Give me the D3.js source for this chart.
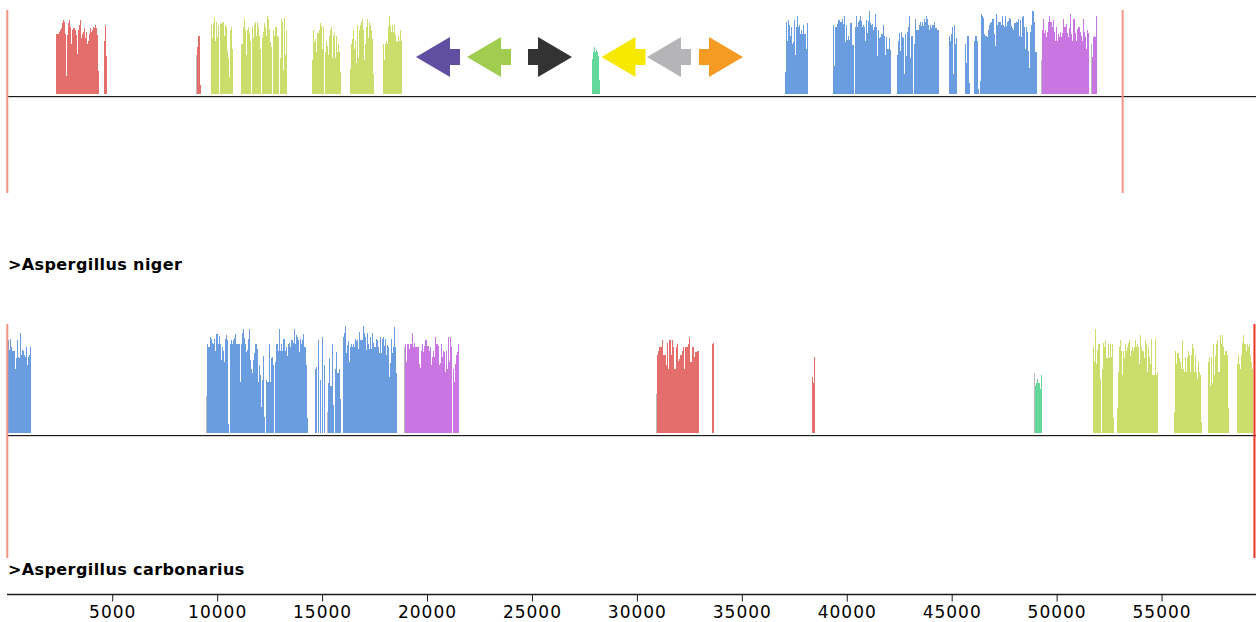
<!DOCTYPE html>
<html>
<head>
<meta charset="utf-8">
<script src="https://cdn.jsdelivr.net/npm/d3@7"></script>
<style>
  body { margin: 0; background: #fff; }
  svg { display: block; }
  .label { font-family: "DejaVu Sans", sans-serif; font-weight: bold; font-size: 16px; letter-spacing: 0.4px; fill: #000; }
  .axis text { font-family: "DejaVu Sans", sans-serif; font-size: 17px; letter-spacing: 1px; fill: #000; }
</style>
</head>
<body>
<svg id="chart"></svg>
<script>
const width = 1260;
const height = 622;

// genomes and their lengths (bp)
const genomes = [">Aspergillus niger", ">Aspergillus carbonarius"];
const genomeLengths = [53146, 59426];
const tickValues = [5000, 10000, 15000, 20000, 25000, 30000, 35000, 40000, 45000, 50000, 55000];

const lcbColors = {
  red: "#e36e6c", green: "#cbdd6b", blue: "#6a9de0",
  purple: "#c975e2", teal: "#64d89a", gray: "#b9b9b9"
};

// similarity profile blocks: [start bp, end bp, colour, similarity values (%)]
const nigerBlocks = [
  [2322, 4371, "red", [71,72,72,74,76,79,82,84,88,86,72,21,70,84,88,80,60,74,76,79,79,76,70,48,76,82,88,67,72,72,74,79,67,74,60,63,72,79,74,76,80,84,79,82,79,70,27]],
  [4600, 4760, "red", [63,82,45]],
  [8990, 9040, "gray", [46]],
  [9040, 9230, "red", [56,69,11]],
  [9707, 10755, "green", [82,67,85,90,63,86,68,82,0,85,83,86,86,69,82,80,51,43,20,76,80,53]],
  [11136, 13328, "green", [60,60,80,89,76,46,76,80,73,63,0,80,67,82,86,69,86,80,69,53,0,67,74,85,80,69,93,89,76,62,56,0,76,69,80,80,69,68,0,43,89,86,29,90,46,76]],
  [14519, 15901, "green", [40,76,62,65,50,73,73,76,85,81,53,80,0,50,63,57,46,69,76,80,43,69,73,43,69,50,60,50,26]],
  [16330, 17474, "green", [30,60,65,76,53,63,37,82,43,76,82,86,89,76,40,60,80,89,67,86,82,76,65,24]],
  [17903, 18808, "green", [60,40,60,63,60,80,93,82,74,82,74,82,70,63,62,69,63,76,63]],
  [27861, 28242, "teal", [42,50,56,50,52,50,45,17]],
  [37057, 38153, "blue", [26,86,63,88,82,69,80,60,62,88,46,80,93,80,82,71,76,71,82,71,71,53,85]],
  [39349, 42092, "blue", [82,33,80,80,83,88,88,86,86,89,83,93,62,82,64,69,64,85,85,58,58,0,80,93,80,86,88,93,87,80,82,80,63,88,73,87,99,85,82,83,76,80,95,80,45,76,67,68,71,71,82,69,46,68,53,53,67,52]],
  [42378, 44379, "blue", [46,63,73,51,74,68,67,50,24,71,45,74,80,93,43,69,69,0,60,89,76,76,76,82,86,81,86,81,89,86,93,89,82,76,82,78,82,82,86,78,78,76,76]],
  [44856, 45237, "blue", [69,63,71,80,24,82,60,67]],
  [45618, 45856, "blue", [60,37,69,69,13]],
  [46047, 46285, "blue", [63,69,69,63,6]],
  [46332, 49048, "blue", [16,95,93,90,71,69,69,68,76,82,85,86,89,89,71,57,95,82,86,86,86,82,93,82,80,93,81,86,87,90,89,81,78,76,85,85,86,86,89,69,88,68,92,93,80,53,80,74,51,31,74,82,99,99,86,50,50]],
  [49240, 49287, "gray", [40]],
  [49287, 51526, "purple", [76,89,73,76,68,74,86,93,86,86,80,88,74,63,80,63,71,68,74,68,73,89,80,80,83,73,68,78,95,71,63,89,89,73,63,77,80,80,74,69,63,89,74,68,53,76,73]],
  [51620, 51669, "gray", [60]],
  [51669, 51907, "purple", [44,68,69,68,93]]
];

const carbonariusBlocks = [
  [35, 1131, "blue", [85,76,86,79,75,75,75,59,69,85,70,69,92,72,76,75,72,70,79,62,70,72,79]],
  [9470, 9517, "gray", [34]],
  [9517, 10565, "blue", [82,79,79,88,86,83,82,86,75,91,82,89,82,67,79,75,65,86,90,85,8]],
  [10613, 12281, "blue", [82,85,82,85,87,91,82,82,82,82,47,82,92,95,87,82,74,76,86,95,67,59,55,67,73,82,82,77,47,62,53,24,49,71,15]],
  [12328, 12710, "blue", [49,47,47,82,47,69,70,62]],
  [12757, 14329, "blue", [65,82,82,75,95,75,82,75,86,86,75,79,71,82,83,79,85,85,83,95,82,90,88,85,74,86,82,85,91,79,79,62,14]],
  [14662, 15138, "blue", [59,61,0,85,0,49,0,88,0,62]],
  [15234, 15281, "gray", [19]],
  [15281, 15567, "blue", [46,69,43,82,26]],
  [15615, 15901, "blue", [59,74,55,59,31]],
  [15996, 18569, "blue", [88,92,98,73,81,84,65,79,82,79,82,79,86,84,85,77,93,85,85,85,98,92,88,76,92,82,77,82,88,77,92,83,79,79,86,85,79,73,88,73,86,88,80,86,72,81,79,51,64,86,73,79,97,79,55]],
  [18904, 18951, "gray", [79]],
  [18951, 21190, "purple", [82,65,82,82,77,82,82,92,79,83,79,79,79,79,63,60,75,82,74,80,85,85,80,75,79,62,70,75,70,88,82,82,80,62,64,82,70,75,74,56,75,59,88,65,88,79]],
  [21238, 21524, "purple", [59,47,63,72,74,82]],
  [30910, 30957, "gray", [36]],
  [30957, 32958, "red", [72,75,79,79,85,72,72,62,83,59,85,72,85,79,59,79,82,66,68,72,75,79,59,79,79,82,88,65,79,79,70,74,75,75]],
  [33577, 33672, "red", [82,83]],
  [38342, 38485, "red", [51,46,70]],
  [48920, 48968, "gray", [55]],
  [48968, 49302, "teal", [43,46,50,46,40,53]],
  [51733, 52114, "green", [79,65,95,63,76,82,82,50]],
  [52162, 52733, "green", [59,83,79,85,69,69,82,69,82,70,82,14]],
  [52876, 54830, "green", [23,56,79,85,75,53,75,69,82,75,79,83,85,71,75,79,75,79,85,79,82,79,63,90,79,75,75,69,85,82,56,79,70,63,86,53,53,53,86,53,56]],
  [55592, 56926, "green", [19,75,63,73,73,69,65,59,85,59,56,70,56,70,75,72,56,72,82,78,56,72,56,50,65,56,53,10]],
  [57212, 58212, "green", [65,70,43,70,46,82,53,71,82,85,89,56,56,90,82,90,79,72,75,75,72,23]],
  [58593, 59355, "green", [63,72,63,59,72,83,90,82,82,75,82,79,82,72,65,59]]
];

// marker arrows on the niger track: [centre bp, direction, colour]
const arrows = [
  [20522, -1, "#604ea0"],
  [22953, -1, "#a0cd50"],
  [25860, 1, "#333333"],
  [29362, -1, "#f7e800"],
  [31530, -1, "#b5b4b6"],
  [34007, 1, "#f59a23"]
];

const svg = d3.select("#chart")
  .attr("width", width)
  .attr("height", height);

const x = d3.scaleLinear().domain([0, 59500]).range([7.3, 1256]);

const panels = [
  { top: 10, base: 94, bottom: 193, label: 270, blocks: nigerBlocks },
  { top: 324, base: 433, bottom: 558, label: 575, blocks: carbonariusBlocks }
];

panels.forEach((p, gi) => {
  const y = d3.scaleLinear().domain([0, 100]).range([p.base, p.top]);
  const g = svg.append("g");

  // similarity bars
  p.blocks.forEach(([s, e, c, vals]) => {
    const step = (e - s) / vals.length;
    g.selectAll(null)
      .data(vals)
      .enter()
      .append("rect")
      .attr("x", (d, i) => x(s + i * step))
      .attr("width", Math.max(0.9, x(s + step) - x(s)))
      .attr("y", d => y(d))
      .attr("height", d => p.base - y(d))
      .attr("fill", lcbColors[c])
      .attr("shape-rendering", "crispEdges");
  });

  // centre line
  g.append("line")
    .attr("x1", 7).attr("x2", 1256)
    .attr("y1", p.base + 3.5).attr("y2", p.base + 3.5)
    .attr("stroke", "#d4d4d4").attr("stroke-width", 1)
    .attr("shape-rendering", "crispEdges");
  g.append("line")
    .attr("x1", 7).attr("x2", 1256)
    .attr("y1", p.base + 2.5).attr("y2", p.base + 2.5)
    .attr("stroke", "#1a1a1a").attr("stroke-width", 1)
    .attr("shape-rendering", "crispEdges");

  // genome start / end markers
  g.append("line")
    .attr("x1", x(0)).attr("x2", x(0))
    .attr("y1", p.top).attr("y2", p.bottom)
    .attr("stroke", "#f59484").attr("stroke-width", 2);
  g.append("line")
    .attr("x1", x(genomeLengths[gi])).attr("x2", x(genomeLengths[gi]))
    .attr("y1", p.top).attr("y2", p.bottom)
    .attr("stroke", gi === 0 ? "#f59484" : "#ee3322").attr("stroke-width", 2);

  svg.append("text")
    .attr("class", "label")
    .attr("x", 8)
    .attr("y", p.label)
    .text(genomes[gi]);
});

// arrows
const ay = 57;
svg.selectAll(".arrow")
  .data(arrows)
  .enter()
  .append("path")
  .attr("class", "arrow")
  .attr("transform", d => `translate(${x(d[0])},${ay}) scale(${d[1]},1)`)
  .attr("d", "M22,0 L-12,-20 L-12,-8 L-22,-8 L-22,8 L-12,8 L-12,20 Z")
  .attr("fill", d => d[2]);

// axis
const axis = svg.append("g")
  .attr("class", "axis")
  .attr("transform", "translate(0,594.5)")
  .call(d3.axisBottom(x).tickValues(tickValues).tickFormat(d3.format("d")).tickSize(7).tickPadding(4));
axis.select(".domain").attr("d", "M7,0H1256").attr("stroke", "#1a1a1a").attr("stroke-width", 1.3);
axis.selectAll(".tick line").attr("stroke", "#1a1a1a");
</script>
</body>
</html>
